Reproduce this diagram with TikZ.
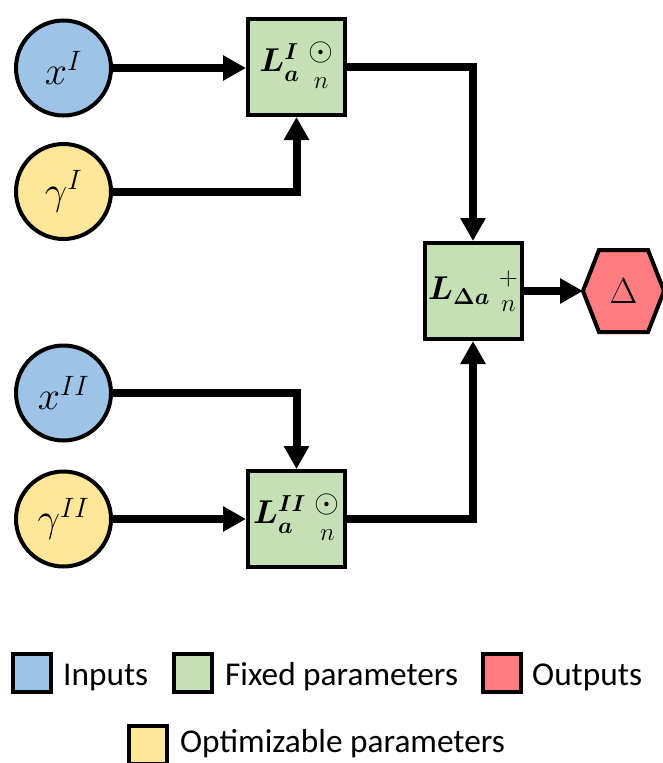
\documentclass[tikz,border=0pt]{standalone}
\usepackage{fix-cm}
\usepackage{amsmath}
\usepackage{fontspec}
\newfontfamily\legendfont{Carlito}
\usetikzlibrary{arrows.meta}
\definecolor{inblue}{HTML}{9DC3E6}
\definecolor{fixgreen}{HTML}{C5E0B4}
\definecolor{optyellow}{HTML}{FFE699}
\definecolor{outred}{HTML}{FF7C80}
\newcommand{\opstk}[4]{\raisebox{#3}{$\begin{array}{@{}c@{}}#1\\[#4]\mbox{\fontsize{25}{27}\selectfont$#2$}\end{array}$}}
\newcommand{\bigdot}{\mbox{\fontsize{32}{34}\selectfont$\odot$}}
\newcommand{\plussym}{\mbox{\fontsize{26}{28}\selectfont$+$}}
\begin{document}
\begin{tikzpicture}[x=1pt,y=-1pt,
  inp/.style={circle,draw,line width=4pt,fill=inblue,minimum size=95pt,inner sep=0pt,outer sep=2pt,font=\fontsize{40}{44}\selectfont},
  opt/.style={inp,fill=optyellow},
  fix/.style={rectangle,draw,line width=4pt,fill=fixgreen,minimum width=97pt,minimum height=96pt,inner sep=0pt,outer sep=2pt,font=\fontsize{33}{36}\selectfont},
  arr/.style={line width=8pt,-{Triangle[length=23pt,width=24pt]}},
  leg/.style={draw,line width=4pt,minimum size=38pt,inner sep=0pt},
  legtxt/.style={anchor=base west,inner sep=0pt,font=\legendfont\fontsize{33.3}{36}\selectfont}]
\useasboundingbox (0,0) rectangle (662,763);
% inputs / parameters
\node[inp] (xI) at (63.5,68) {$x^{I}$};
\node[opt] (gI) at (63.5,191.5) {$\gamma^{I}$};
\node[inp] (xII) at (63.5,393) {$x^{II}$};
\node[opt] (gII) at (63.5,519) {$\gamma^{II}$};
% fixed blocks
\node[fix] (LI) at (296.5,67) {$\boldsymbol{L^{I}_{a}}\;\opstk{\bigdot}{n}{-4pt}{-8pt}$};
\node[fix] (LD) at (473,291) {$\boldsymbol{L_{\Delta a}}\;\opstk{\plussym}{n}{0pt}{-10pt}$};
\node[fix] (LII) at (296.5,519) {$\boldsymbol{L^{II}_{a}}\;\opstk{\bigdot}{n}{-4pt}{-8pt}$};
% output hexagon
\path node[minimum width=77pt,minimum height=78pt,inner sep=0pt,outer sep=2pt] (out) at (623.5,291) {};
\filldraw[fill=outred,line width=4pt]
  (out.west) -- ([xshift=16pt]out.north west) -- ([xshift=-16pt]out.north east)
  -- (out.east) -- ([xshift=-16pt]out.south east) -- ([xshift=16pt]out.south west) -- cycle;
\node[font=\fontsize{36}{40}\selectfont] (outlbl) at (out) {$\Delta$};
% connectors
\draw[arr] (xI.east) -- (xI.east -| LI.west);
\draw[arr] (gI) -| (LI);
\draw[arr] (LI) -| (LD);
\draw[arr] (xII) -| (LII);
\draw[arr] (gII) -- (LII);
\draw[arr] (LII) -| (LD);
\draw[arr] (LD) -- (out);
% legend
\node[leg,fill=inblue] (kin) at (32,673) {};
\node[legtxt] (tin) at (63,685) {Inputs};
\node[leg,fill=fixgreen] (kfix) at (192.5,673) {};
\node[legtxt] (tfix) at (225,685) {Fixed parameters};
\node[leg,fill=outred] (kout) at (501.5,673) {};
\node[legtxt] (tout) at (532,685) {Outputs};
\node[leg,fill=optyellow] (kopt) at (148,745) {};
\node[legtxt] (topt) at (180,752) {Optimizable parameters};
\end{tikzpicture}
\end{document}
